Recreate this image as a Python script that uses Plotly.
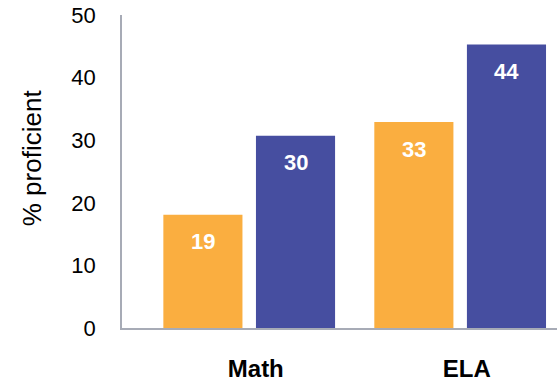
import plotly.graph_objects as go

categories = ["Math", "ELA"]
series_names = ["Group A", "Group B"]
orange_values = [18.1, 32.9]
blue_values = [30.7, 45.3]
orange_labels = ["19", "33"]
blue_labels = ["30", "44"]
y_ticks = [0, 10, 20, 30, 40, 50]

ORANGE = "#FAAE40"
BLUE = "#464EA0"
AXIS = "#A7ABB6"

width = 0.375
off_orange = -0.405
off_blue = 0.034

fig = go.Figure()
fig.add_trace(go.Bar(x=categories, y=orange_values, name=series_names[0],
                     marker=dict(color=ORANGE, line=dict(width=0)),
                     width=width, offset=off_orange))
fig.add_trace(go.Bar(x=categories, y=blue_values, name=series_names[1],
                     marker=dict(color=BLUE, line=dict(width=0)),
                     width=width, offset=off_blue))

for i, cat in enumerate(categories):
    for vals, labs, off in ((orange_values, orange_labels, off_orange),
                            (blue_values, blue_labels, off_blue)):
        fig.add_annotation(x=i + off + width / 2, y=vals[i], text="<b>%s</b>" % labs[i],
                           showarrow=False, yanchor="middle", yshift=-27,
                           font=dict(family="Liberation Sans, Arial", size=22, color="white"))

fig.add_annotation(xref="paper", yref="paper", x=-0.205, y=0.545, text="% proficient",
                   textangle=-90, showarrow=False, xanchor="center", yanchor="middle",
                   font=dict(family="Liberation Sans, Arial", size=26, color="black"))

fig.update_layout(
    width=557, height=382,
    margin=dict(l=122, r=0, t=15, b=51),
    paper_bgcolor="white", plot_bgcolor="white",
    showlegend=False,
    font=dict(family="Liberation Sans, Arial", color="black"),
    xaxis=dict(type="category", range=[-0.601, 1.461], showgrid=False, zeroline=False,
               showline=True, linecolor=AXIS, linewidth=1.5, ticks="",
               tickfont=dict(size=24, family="Liberation Sans, Arial", weight="bold"),
               ticklabelshift=7, ticklabelstandoff=18),
    yaxis=dict(range=[0, 50], tickvals=y_ticks, showgrid=False, zeroline=False,
               showline=True, linecolor=AXIS, linewidth=1.5, ticks="",
               tickfont=dict(size=22, family="Liberation Sans, Arial"),
               ticklabelstandoff=20),
)

fig.write_html("out.html")
